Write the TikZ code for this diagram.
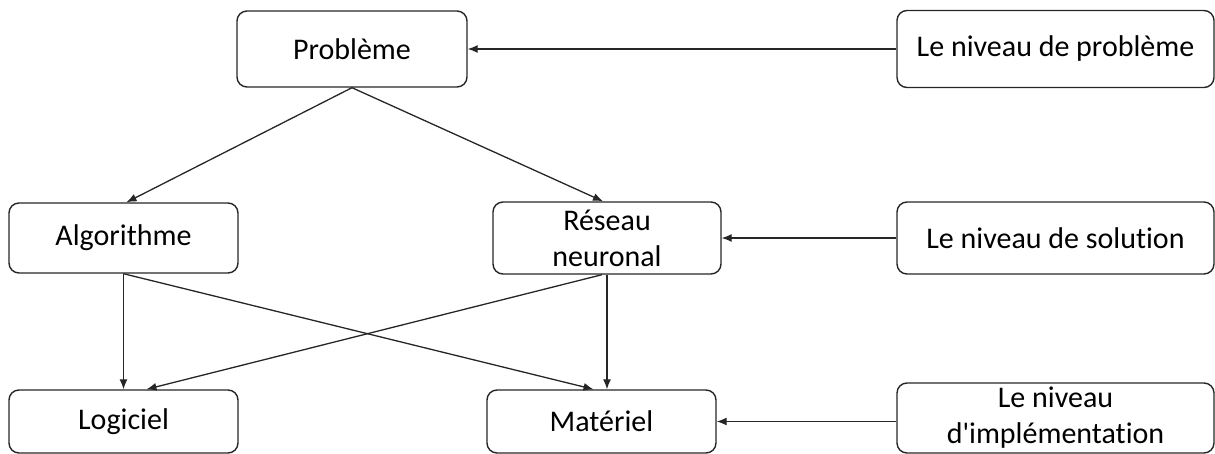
\documentclass[tikz,border=0pt]{standalone}
\usepackage{fontspec}
\setmainfont{Carlito}[Ligatures={NoCommon}]
\usetikzlibrary{arrows.meta,calc}
\begin{document}
\begin{tikzpicture}[x=1pt,y=-1pt,
  box/.style={draw=black!85,line width=1.4pt,rounded corners=10pt,align=center,
    font=\fontsize{30}{36}\selectfont,inner sep=0pt},
  conn/.style={draw=black!85,line width=1.3pt,-{Latex[length=10pt,width=8pt]}}]
\useasboundingbox (0,0) rectangle (1215,454);
\node[box,minimum width=230pt,minimum height=76pt] (prob) at (352,49) {Problème};
\node[box,minimum width=317pt,minimum height=77pt] (lnp) at (1055.5,49) {Le niveau de problème};
\node[box,minimum width=229pt,minimum height=70pt] (algo) at (123.5,238) {Algorithme};
\node[box,minimum width=228pt,minimum height=72pt] (res) at (607,238) {Réseau\\neuronal};
\node[box,minimum width=317pt,minimum height=72pt] (lns) at (1055.5,238) {Le niveau de solution};
\node[box,minimum width=229pt,minimum height=63pt] (log) at (123.5,421.5) {Logiciel};
\node[box,minimum width=229pt,minimum height=63pt] (mat) at (601.5,421.5) {Matériel};
\node[box,minimum width=317pt,minimum height=70pt] (lni) at (1055.5,418) {Le niveau\\d\textquotesingle implémentation};
\draw[conn] (lnp.west) -- (prob.east);
\draw[conn] (lns.west) -- (res.east);
\draw[conn] (lni.west |- mat.east) -- (mat.east);
\draw[conn] (prob.south) -- ([xshift=3pt]algo.north);
\draw[conn] (prob.south) -- ([xshift=-4pt]res.north);
\draw[conn] (algo.south) -- (log.north);
\draw[conn] (algo.south) -- ([xshift=-8pt]mat.north);
\draw[conn] ([xshift=-5pt]res.south) -- ([xshift=23pt]log.north);
\draw[conn] (res.south) -- (res.south |- mat.north);
\end{tikzpicture}
\end{document}
